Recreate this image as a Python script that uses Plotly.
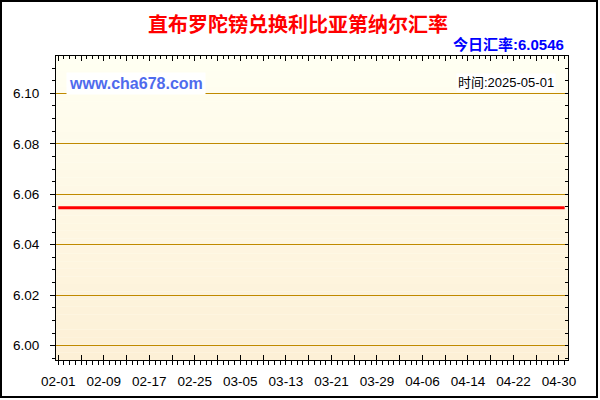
import plotly.graph_objects as go
import pandas as pd

# rate data (flat over the whole period)
dates = pd.date_range("2025-02-01", "2025-05-01", freq="D")
rates = [6.0546] * len(dates)

title_text = "直布罗陀镑兑换利比亚第纳尔汇率"
today_text = "今日汇率:6.0546"
time_text = "时间:2025-05-01"
site_text = "www.cha678.com"

# tick labels on the x axis (one label every 8 days, ticks every 4 days)
x_labels = ["02-01", "02-09", "02-17", "02-25", "03-05", "03-13",
            "03-21", "03-29", "04-06", "04-14", "04-22", "04-30"]
x_tickvals = pd.date_range("2025-02-01", "2025-04-30", freq="4D")
y_tickvals = [6.00, 6.02, 6.04, 6.06, 6.08, 6.10]

W, H = 600, 400
L, R, T, B = 56, 568, 56, 360

def px(x):
    return (x - L) / (R - L)

def py(y):
    return (B - y) / (B - T)

x_text = []
for i in range(len(x_tickvals)):
    x_text.append(x_labels[i // 2] if i % 2 == 0 else "")

x_range = ["2025-01-31 14:20", "2025-05-01 14:00"]
y_range = [5.9943, 6.1148]

fig = go.Figure()

fig.add_trace(go.Scatter(
    x=dates, y=rates, mode="lines",
    line=dict(color="#ff0000", width=3),
    hoverinfo="skip", showlegend=False
))

# invisible copies so the mirrored axes get drawn
fig.add_trace(go.Scatter(
    x=dates, y=rates, mode="lines", xaxis="x2", yaxis="y2",
    line=dict(color="rgba(0,0,0,0)", width=0),
    hoverinfo="skip", showlegend=False
))
fig.add_trace(go.Scatter(
    x=dates, y=rates, mode="lines", xaxis="x3", yaxis="y",
    line=dict(color="rgba(0,0,0,0)", width=0),
    hoverinfo="skip", showlegend=False
))

tick_font = dict(family="Liberation Sans, Arial, sans-serif", size=13.5, color="#000000")

fig.update_layout(
    width=W, height=H,
    margin=dict(l=L, r=W - R, t=T, b=H - B),
    paper_bgcolor="#ffffff",
    plot_bgcolor="#fffff2",
    xaxis=dict(
        range=x_range, type="date",
        tickvals=x_tickvals, ticktext=x_text,
        ticks="outside", ticklen=4, tickcolor="#000000", tickwidth=1,
        minor=dict(dtick=86400000, ticks="outside", ticklen=4, tickcolor="#000000"),
        showgrid=False, zeroline=False,
        showline=True, linecolor="#000000", linewidth=1,
        tickfont=tick_font, ticklabelstandoff=5,
    ),
    xaxis2=dict(
        range=x_range, type="date", overlaying="x", side="top",
        tickvals=x_tickvals, showticklabels=False,
        ticks="inside", ticklen=5, tickcolor="#000000",
        minor=dict(dtick=86400000, ticks="inside", ticklen=3, tickcolor="#000000"),
        showgrid=False, zeroline=False,
        showline=True, linecolor="#000000", linewidth=1,
    ),
    xaxis3=dict(
        range=x_range, type="date", overlaying="x", side="bottom",
        tickvals=x_tickvals, showticklabels=False,
        ticks="inside", ticklen=5, tickcolor="#000000",
        showgrid=False, zeroline=False, showline=False,
    ),
    yaxis=dict(
        range=y_range, tickvals=y_tickvals, tickformat=".2f",
        ticks="outside", ticklen=5, tickcolor="#000000",
        minor=dict(dtick=0.005, tick0=6.0, ticks="outside", ticklen=3,
                   tickcolor="#000000", showgrid=False),
        showgrid=True, gridcolor="#c08a00", gridwidth=1,
        zeroline=False,
        showline=True, linecolor="#000000", linewidth=1,
        tickfont=tick_font, ticklabelstandoff=8,
    ),
    yaxis2=dict(
        range=y_range, overlaying="y", side="right",
        tickvals=y_tickvals, showticklabels=False,
        ticks="inside", ticklen=3, tickcolor="#000000",
        minor=dict(dtick=0.005, tick0=6.0, ticks="inside", ticklen=3,
                   tickcolor="#000000", showgrid=False),
        showgrid=False, zeroline=False,
        showline=True, linecolor="#000000", linewidth=1,
    ),
)

# vertical gradient of the plot background
top_c = (255, 255, 242)
bot_c = (253, 240, 214)
n = 40
shapes = []
for i in range(n):
    f = i / (n - 1)
    c = tuple(round(top_c[k] + (bot_c[k] - top_c[k]) * f) for k in range(3))
    shapes.append(dict(
        type="rect", xref="x domain", yref="y domain",
        x0=0, x1=1, y0=1 - (i + 1) / n, y1=1 - i / n,
        fillcolor="rgb(%d,%d,%d)" % c, line=dict(width=0), layer="below"
    ))

# outer black frame
shapes.append(dict(
    type="rect", xref="paper", yref="paper",
    x0=px(1), x1=px(597), y0=py(397), y1=py(1),
    line=dict(color="#000000", width=2), fillcolor="rgba(0,0,0,0)", layer="above"
))
fig.update_layout(shapes=shapes)

cjk = "Liberation Sans, Noto Sans CJK SC, sans-serif"
fig.add_annotation(
    text="<b>" + title_text + "</b>", xref="paper", yref="paper",
    x=px(298), y=py(24), xanchor="center", yanchor="middle", showarrow=False,
    font=dict(family="Noto Sans CJK SC, sans-serif", size=20, color="#ff0000")
)
fig.add_annotation(
    text="<b>" + today_text + "</b>", xref="paper", yref="paper",
    x=px(566), y=py(44), xanchor="right", yanchor="middle", showarrow=False,
    font=dict(family=cjk, size=15, color="#0000ff")
)
fig.add_annotation(
    text=time_text, xref="paper", yref="paper",
    x=px(556), y=py(82), xanchor="right", yanchor="middle", showarrow=False,
    font=dict(family=cjk, size=13, color="#000000"),
    bgcolor="#ffffff", borderpad=1
)
fig.add_annotation(
    text="<b>" + site_text + "</b>", xref="paper", yref="paper",
    x=px(66), y=py(84), xanchor="left", yanchor="middle", showarrow=False,
    font=dict(family="Liberation Sans, Arial, sans-serif", size=16, color="#4f6bed"),
    bgcolor="#ffffff", borderpad=2
)

# page body has a default margin; drop it so the chart sits at 0,0
fig.write_html("out.html", config={"displayModeBar": False},
               post_script="document.body.style.margin='0';")
